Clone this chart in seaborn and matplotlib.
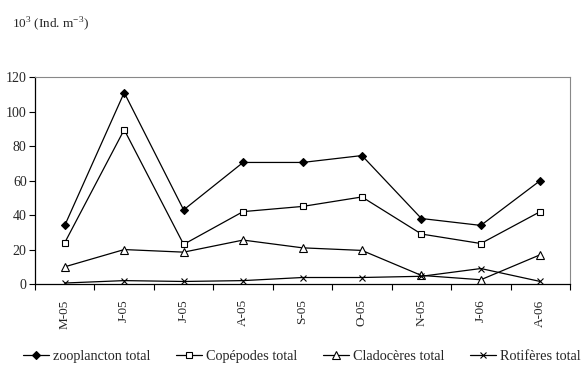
import matplotlib
matplotlib.use("Agg")
import matplotlib.pyplot as plt
import seaborn as sns
import pandas as pd
import numpy as np
from matplotlib.ticker import FixedLocator, MultipleLocator

# Monthly sampling dates
months = ["M-05", "J-05", "J-05", "A-05", "S-05", "O-05", "N-05", "J-06", "A-06"]

# Densities (10^3 ind. m^-3)
zooplancton = [34, 111, 43, 70.5, 70.5, 74.5, 38, 34, 60]
copepodes = [24, 89.5, 23, 42, 45, 50.5, 29, 23.5, 42]
cladoceres = [10, 20, 18.5, 25.5, 21, 19.5, 5, 2.5, 17]
rotiferes = [0.6, 2, 1.5, 2, 3.8, 3.8, 4.5, 9, 1.5]

series_names = ["zooplancton total", "Copépodes total", "Cladocères total", "Rotifères total"]
series_values = [zooplancton, copepodes, cladoceres, rotiferes]

sns.set_style("white")
plt.rcParams["font.family"] = ["Liberation Serif", "DejaVu Serif"]
plt.rcParams["mathtext.fontset"] = "custom"
plt.rcParams["mathtext.rm"] = "Liberation Serif"

fig = plt.figure(figsize=(5.84, 3.67), dpi=100)
ax = fig.add_axes([0.060, 0.226, 0.916, 0.564])

styles = {
    "zooplancton total": dict(marker="D", markersize=4, markerfacecolor="black"),
    "Copépodes total": dict(marker="s", markersize=5, markerfacecolor="white"),
    "Cladocères total": dict(marker="^", markersize=5.5, markerfacecolor="white"),
    "Rotifères total": dict(marker="x", markersize=5),
}

handles = []
for name, vals in zip(series_names, series_values):
    d = pd.DataFrame({"pos": np.arange(len(months)), "value": vals})
    sns.lineplot(data=d, x="pos", y="value", color="black", linewidth=0.9,
                 markeredgecolor="black", markeredgewidth=0.8, ax=ax,
                 **styles[name])
    handles.append(ax.get_lines()[-1])

ax.set_xlim(-0.5, len(months) - 0.5)
ax.set_ylim(0, 120)
ax.yaxis.set_major_locator(MultipleLocator(20))
ax.set_xticks(range(len(months)))
ax.set_xticklabels(months, rotation=90, fontsize=9.5)
ax.xaxis.set_minor_locator(FixedLocator(np.arange(-0.5, len(months), 1.0)))
ax.tick_params(axis="x", which="major", length=0, pad=11)
ax.tick_params(axis="x", which="minor", length=4, width=0.8, color="black", direction="out", bottom=True)
ax.tick_params(axis="y", length=4, width=0.8, color="black", direction="out", left=True, labelsize=10, pad=2)
ax.set_xlabel("")
ax.set_ylabel("")

for side in ("top", "right"):
    ax.spines[side].set_color("#888888")
    ax.spines[side].set_linewidth(0.8)
for side in ("left", "bottom"):
    ax.spines[side].set_color("black")
    ax.spines[side].set_linewidth(0.9)

fig.text(0.020, 0.935, r"10$^{3}$ (Ind. m$^{-3}$)", fontsize=9.5, ha="left", va="center")

fig.legend(handles, series_names, loc="lower center", ncol=4, frameon=False,
           bbox_to_anchor=(0.517, -0.025), fontsize=10.3, handlelength=1.8,
           handletextpad=0.3, columnspacing=1.8)

fig.savefig("out.png", dpi=100)
